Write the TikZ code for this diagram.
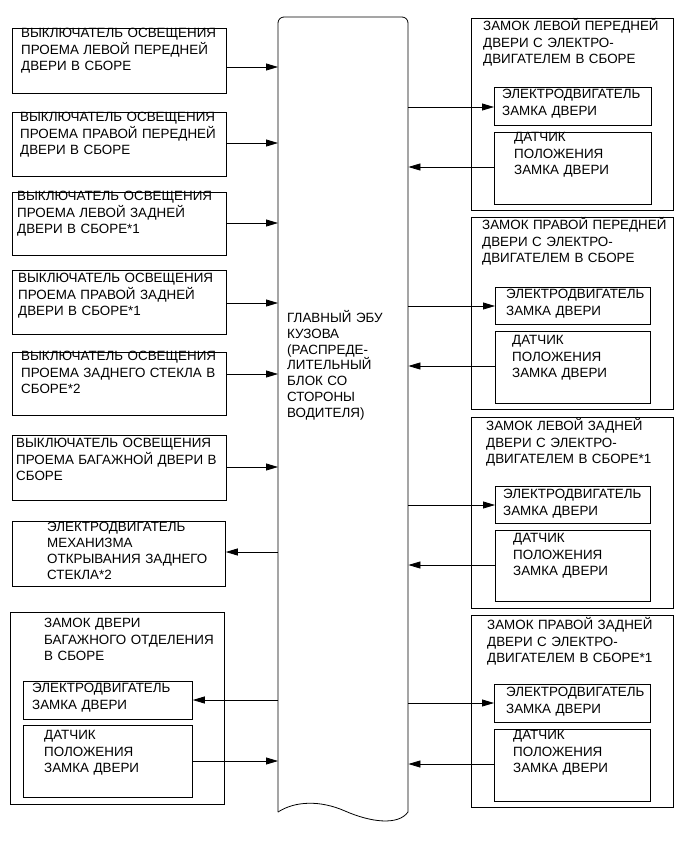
\documentclass[tikz,border=0pt]{standalone}
\usepackage{fontspec}
\setmainfont{Liberation Sans}
\usetikzlibrary{arrows.meta, positioning}

\begin{document}
\begin{tikzpicture}[
    x=1pt, y=-1pt,
    box/.style={draw=black, line width=0.8pt, inner sep=0pt, anchor=north west},
    txt/.style={anchor=base west, inner sep=0pt, text width=230pt, align=left,
        font=\fontsize{13.4}{16.5}\selectfont},
    arr/.style={-{Triangle[length=12pt, width=7pt]}, line width=0.8pt}
]
\useasboundingbox (0,0) rectangle (691,855);

% --- body ECU (document shape) ---
\node[minimum width=130pt, minimum height=795pt, inner sep=0pt, anchor=north west] (ecu) at (278,17) {};
\draw[line width=0.8pt, rounded corners=6pt] (278,812) -- (278,17) -- (408,17) -- (408,812);
\draw[line width=0.8pt] (408,812)
    .. controls (398,826) and (370,822) .. (345,811)
    .. controls (320,800) and (295,801) .. (278,812);
\node[txt, font=\fontsize{13.4}{15.7}\selectfont] (ecut) at (287,322.8)
    {ГЛАВНЫЙ ЭБУ\\КУЗОВА\\(РАСПРЕДЕ-\\ЛИТЕЛЬНЫЙ\\БЛОК СО\\СТОРОНЫ\\ВОДИТЕЛЯ)};

% --- left column: courtesy light switches ---
\node[box, minimum width=214pt, minimum height=65pt] (sw1) at (12,28) {};
\node[txt] (sw1t) at (21,37.8) {ВЫКЛЮЧАТЕЛЬ ОСВЕЩЕНИЯ\\ПРОЕМА ЛЕВОЙ ПЕРЕДНЕЙ\\ДВЕРИ В СБОРЕ};

\node[box, minimum width=214pt, minimum height=64pt] (sw2) at (12,112) {};
\node[txt] (sw2t) at (20,121.8) {ВЫКЛЮЧАТЕЛЬ ОСВЕЩЕНИЯ\\ПРОЕМА ПРАВОЙ ПЕРЕДНЕЙ\\ДВЕРИ В СБОРЕ};

\node[box, minimum width=214pt, minimum height=63pt] (sw3) at (12,192) {};
\node[txt] (sw3t) at (17,200.8) {ВЫКЛЮЧАТЕЛЬ ОСВЕЩЕНИЯ\\ПРОЕМА ЛЕВОЙ ЗАДНЕЙ\\ДВЕРИ В СБОРЕ*1};

\node[box, minimum width=214pt, minimum height=64pt] (sw4) at (12,270) {};
\node[txt] (sw4t) at (18,282.8) {ВЫКЛЮЧАТЕЛЬ ОСВЕЩЕНИЯ\\ПРОЕМА ПРАВОЙ ЗАДНЕЙ\\ДВЕРИ В СБОРЕ*1};

\node[box, minimum width=214pt, minimum height=63pt] (sw5) at (12,352) {};
\node[txt] (sw5t) at (21,360.8) {ВЫКЛЮЧАТЕЛЬ ОСВЕЩЕНИЯ\\ПРОЕМА ЗАДНЕГО СТЕКЛА В\\СБОРЕ*2};

\node[box, minimum width=214pt, minimum height=65pt] (sw6) at (12,435) {};
\node[txt] (sw6t) at (16,447.8) {ВЫКЛЮЧАТЕЛЬ ОСВЕЩЕНИЯ\\ПРОЕМА БАГАЖНОЙ ДВЕРИ В\\СБОРЕ};

% rear glass opener motor
\node[box, minimum width=213pt, minimum height=65pt] (glm) at (12,521) {};
\node[txt, font=\fontsize{13.4}{16}\selectfont] (glmt) at (47,531.8)
    {ЭЛЕКТРОДВИГАТЕЛЬ\\МЕХАНИЗМА\\ОТКРЫВАНИЯ ЗАДНЕГО\\СТЕКЛА*2};

% back door lock
\node[box, minimum width=214pt, minimum height=192pt] (tl) at (10,612) {};
\node[txt] (tlt) at (44,627.8) {ЗАМОК ДВЕРИ\\БАГАЖНОГО ОТДЕЛЕНИЯ\\В СБОРЕ};
\node[box, minimum width=169pt, minimum height=38pt] (tlm) at (23,681) {};
\node[txt] (tlmt) at (32,692.8) {ЭЛЕКТРОДВИГАТЕЛЬ\\ЗАМКА ДВЕРИ};
\node[box, minimum width=169pt, minimum height=72pt, below=5pt of tlm] (tls) {};
\node[txt] (tlst) at (44,739.8) {ДАТЧИК\\ПОЛОЖЕНИЯ\\ЗАМКА ДВЕРИ};

% --- right column: door locks with motor ---
\node[box, minimum width=202pt, minimum height=192pt] (lf) at (471,18) {};
\node[txt] (lft) at (483,30.8) {ЗАМОК ЛЕВОЙ ПЕРЕДНЕЙ\\ДВЕРИ С ЭЛЕКТРО-\\ДВИГАТЕЛЕМ В СБОРЕ};
\node[box, minimum width=157pt, minimum height=38pt] (lfm) at (494,87) {};
\node[txt] (lfmt) at (502,98.8) {ЭЛЕКТРОДВИГАТЕЛЬ\\ЗАМКА ДВЕРИ};
\node[box, minimum width=157pt, minimum height=72pt, below=6pt of lfm] (lfs) {};
\node[txt] (lfst) at (514,141.8) {ДАТЧИК\\ПОЛОЖЕНИЯ\\ЗАМКА ДВЕРИ};

\node[box, minimum width=202pt, minimum height=192pt] (rf) at (471,217) {};
\node[txt] (rft) at (482,229.8) {ЗАМОК ПРАВОЙ ПЕРЕДНЕЙ\\ДВЕРИ С ЭЛЕКТРО-\\ДВИГАТЕЛЕМ В СБОРЕ};
\node[box, minimum width=155pt, minimum height=37pt] (rfm) at (495,287) {};
\node[txt] (rfmt) at (506,298.8) {ЭЛЕКТРОДВИГАТЕЛЬ\\ЗАМКА ДВЕРИ};
\node[box, minimum width=155pt, minimum height=72pt, below=6pt of rfm] (rfs) {};
\node[txt] (rfst) at (512,344.8) {ДАТЧИК\\ПОЛОЖЕНИЯ\\ЗАМКА ДВЕРИ};

\node[box, minimum width=202pt, minimum height=191pt] (lr) at (471,417) {};
\node[txt] (lrt) at (486,430.8) {ЗАМОК ЛЕВОЙ ЗАДНЕЙ\\ДВЕРИ С ЭЛЕКТРО-\\ДВИГАТЕЛЕМ В СБОРЕ*1};
\node[box, minimum width=155pt, minimum height=37pt] (lrm) at (495,486) {};
\node[txt] (lrmt) at (503,498.8) {ЭЛЕКТРОДВИГАТЕЛЬ\\ЗАМКА ДВЕРИ};
\node[box, minimum width=155pt, minimum height=71pt, below=6pt of lrm] (lrs) {};
\node[txt] (lrst) at (513,542.8) {ДАТЧИК\\ПОЛОЖЕНИЯ\\ЗАМКА ДВЕРИ};

\node[box, minimum width=202pt, minimum height=192pt] (rr) at (471,615) {};
\node[txt] (rrt) at (487,629.8) {ЗАМОК ПРАВОЙ ЗАДНЕЙ\\ДВЕРИ С ЭЛЕКТРО-\\ДВИГАТЕЛЕМ В СБОРЕ*1};
\node[box, minimum width=156pt, minimum height=38pt] (rrm) at (494,684) {};
\node[txt] (rrmt) at (506,696.8) {ЭЛЕКТРОДВИГАТЕЛЬ\\ЗАМКА ДВЕРИ};
\node[box, minimum width=156pt, minimum height=72pt, below=6pt of rrm] (rrs) {};
\node[txt] (rrst) at (513,739.8) {ДАТЧИК\\ПОЛОЖЕНИЯ\\ЗАМКА ДВЕРИ};

% --- connectors, left side ---
\draw[arr] (sw1.east |- 0,67) -- (ecu.west |- 0,67);
\draw[arr] (sw2.east |- 0,143) -- (ecu.west |- 0,143);
\draw[arr] (sw3.east |- 0,223) -- (ecu.west |- 0,223);
\draw[arr] (sw4.east |- 0,303) -- (ecu.west |- 0,303);
\draw[arr] (sw5.east |- 0,374) -- (ecu.west |- 0,374);
\draw[arr] (sw6.east |- 0,467) -- (ecu.west |- 0,467);
\draw[arr] (ecu.west |- 0,552) -- (glm.east |- 0,552);
\draw[arr] (ecu.west |- 0,700) -- (tlm.east |- 0,700);
\draw[arr] (tls.east |- 0,761) -- (ecu.west |- 0,761);

% --- connectors, right side ---
\draw[arr] (ecu.east |- 0,107) -- (lfm.west |- 0,107);
\draw[arr] (lfs.west |- 0,167) -- (ecu.east |- 0,167);
\draw[arr] (ecu.east |- 0,306) -- (rfm.west |- 0,306);
\draw[arr] (rfs.west |- 0,366) -- (ecu.east |- 0,366);
\draw[arr] (ecu.east |- 0,505) -- (lrm.west |- 0,505);
\draw[arr] (lrs.west |- 0,565) -- (ecu.east |- 0,565);
\draw[arr] (ecu.east |- 0,703) -- (rrm.west |- 0,703);
\draw[arr] (rrs.west |- 0,764) -- (ecu.east |- 0,764);

\end{tikzpicture}
\end{document}
